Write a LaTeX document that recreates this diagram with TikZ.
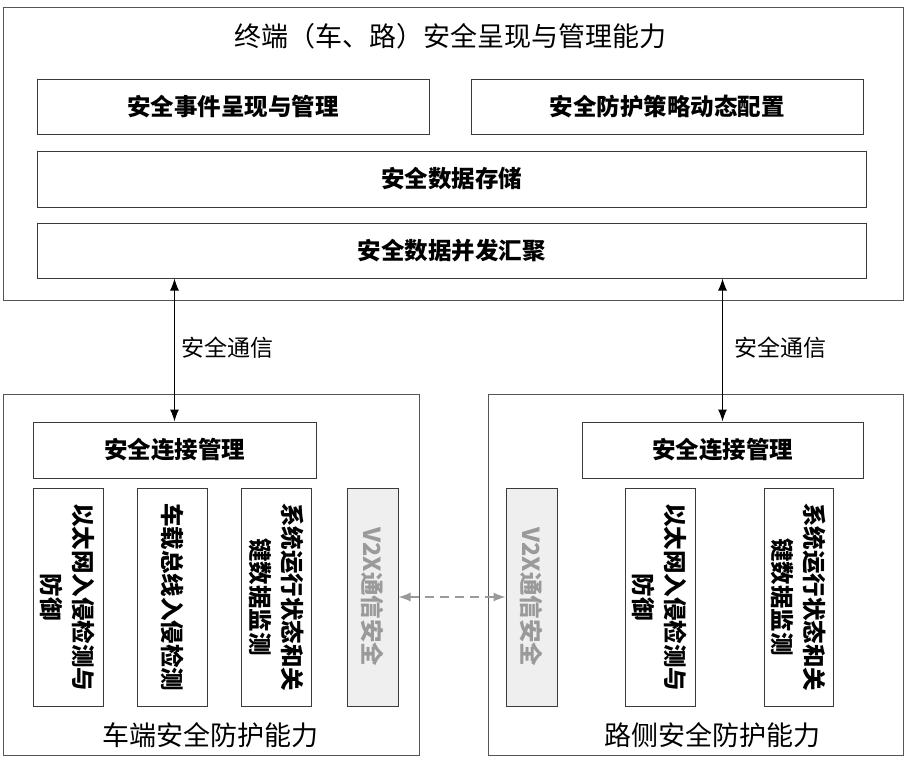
\documentclass[tikz,border=0pt]{standalone}
\usepackage{fontspec}
\setmainfont{Noto Sans CJK SC}
\usetikzlibrary{arrows.meta}
\definecolor{edge}{HTML}{3A3A3A}
\definecolor{outer}{HTML}{555555}
\definecolor{v2xfill}{HTML}{EFEFEF}
\definecolor{v2xtext}{HTML}{9A9A9A}
\begin{document}
\begin{tikzpicture}[x=1pt,y=-1pt,
  boxbase/.style={draw=edge, line width=1pt, inner sep=0pt, rectangle},
  hbox/.style={boxbase, font=\fontsize{23.5}{27}\selectfont\bfseries},
  outerbox/.style={draw=outer, line width=0.9pt, inner sep=0pt, rectangle},
  vtext/.style={rotate=-90, inner sep=0pt, text width=205pt, align=center, font=\fontsize{23.5}{32}\selectfont\bfseries},
  v2xbox/.style={boxbase, fill=v2xfill},
  biglabel/.style={inner sep=0pt, font=\fontsize{27}{31}\selectfont},
  commlabel/.style={inner sep=0pt, anchor=west, font=\fontsize{23}{27}\selectfont},
  comm/.style={{Latex[length=12pt,width=9pt]}-{Latex[length=12pt,width=9pt]}, line width=1.2pt, black},
  v2xlink/.style={{Latex[length=12pt,width=9pt]}-{Latex[length=12pt,width=9pt]}, line width=1.2pt, draw=v2xtext, dash pattern=on 9pt off 6pt}
]
\useasboundingbox[fill=white] (0,0) rectangle (912,760);

% top platform
\node[outerbox, minimum width=900pt, minimum height=293pt] (top) at (453,153.5) {};
\node[biglabel] (toptitle) at (450,36) {终端（车、路）安全呈现与管理能力};
\node[hbox, minimum width=392pt, minimum height=55pt] (ev) at (233,106.5) {安全事件呈现与管理};
\node[hbox, minimum width=392pt, minimum height=55pt] (pol) at (667,106.5) {安全防护策略动态配置};
\node[hbox, minimum width=829pt, minimum height=56pt] (sto) at (451.5,179) {安全数据存储};
\node[hbox, minimum width=829pt, minimum height=55pt] (agg) at (451.5,250.5) {安全数据并发汇聚};

% vehicle side
\node[outerbox, minimum width=416pt, minimum height=361pt] (lbox) at (211,574.5) {};
\node[hbox, minimum width=283pt, minimum height=56pt] (lconn) at (174.5,450) {安全连接管理};
\node[boxbase, minimum width=70pt, minimum height=218pt] (l1) at (68,597) {};
\node[vtext] (l1t) at (l1.center) {以太网入侵检测与\\防御};
\node[boxbase, minimum width=70pt, minimum height=218pt] (l2) at (172,597) {};
\node[vtext] (l2t) at (l2.center) {车载总线入侵检测};
\node[boxbase, minimum width=70pt, minimum height=218pt] (l3) at (276,597) {};
\node[vtext] (l3t) at (l3.center) {系统运行状态和关\\键数据监测};
\node[v2xbox, minimum width=51pt, minimum height=218pt] (lv) at (372.5,597) {};
\node[vtext, text=v2xtext] (lvt) at (lv.center) {V2X通信安全};
\node[biglabel] (lcap) at (210,735) {车端安全防护能力};

% road side
\node[outerbox, minimum width=415pt, minimum height=361pt] (rbox) at (695.5,574.5) {};
\node[hbox, minimum width=281pt, minimum height=56pt] (rconn) at (722.5,450) {安全连接管理};
\node[v2xbox, minimum width=51pt, minimum height=218pt] (rv) at (531.5,597) {};
\node[vtext, text=v2xtext] (rvt) at (rv.center) {V2X通信安全};
\node[boxbase, minimum width=70pt, minimum height=218pt] (r1) at (660,597) {};
\node[vtext] (r1t) at (r1.center) {以太网入侵检测与\\防御};
\node[boxbase, minimum width=69pt, minimum height=218pt] (r2) at (798.5,597) {};
\node[vtext] (r2t) at (r2.center) {系统运行状态和关\\键数据监测};
\node[biglabel] (rcap) at (712,735) {路侧安全防护能力};

% connectors
\draw[comm] (lconn.north |- agg.south) -- (lconn.north);
\draw[comm] (rconn.north |- agg.south) -- (rconn.north);
\node[commlabel] (lcomm) at (181,348) {安全通信};
\node[commlabel] (rcomm) at (734,348) {安全通信};
\draw[v2xlink] (lv.east) -- (rv.west);
\end{tikzpicture}
\end{document}
